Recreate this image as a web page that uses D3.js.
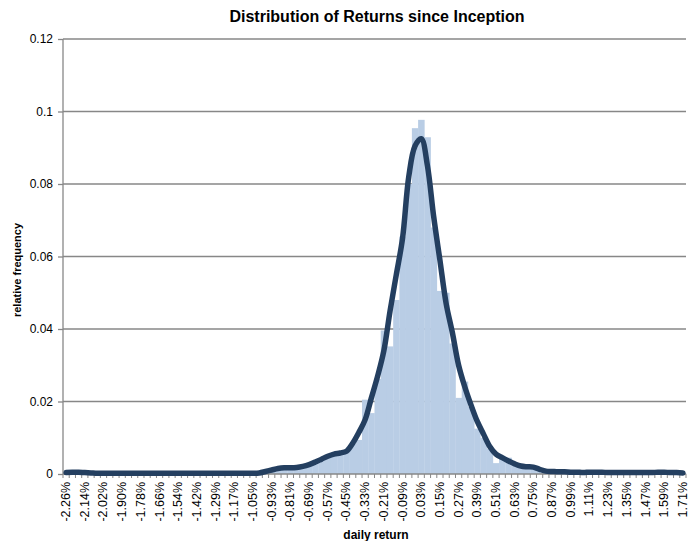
<!DOCTYPE html>
<html>
<head>
<meta charset="utf-8">
<script src="https://cdn.jsdelivr.net/npm/d3@7"></script>
<style>
  body { margin: 0; background: #fff; }
  text { font-family: "Liberation Sans", Arial, sans-serif; fill: #000; }
</style>
</head>
<body>
<svg id="chart"></svg>
<script>
// histogram of daily returns, 100 bins, every 3rd bin labelled
let width = 693, height = 541;

const tickLabels = ["-2.26%","-2.14%","-2.02%","-1.90%","-1.78%","-1.66%","-1.54%","-1.42%","-1.29%",
  "-1.17%","-1.05%","-0.93%","-0.81%","-0.69%","-0.57%","-0.45%","-0.33%","-0.21%","-0.09%",
  "0.03%","0.15%","0.27%","0.39%","0.51%","0.63%","0.75%","0.87%","0.99%","1.11%","1.23%",
  "1.35%","1.47%","1.59%","1.71%"];

const binCount = 100;

// bar heights (relative frequency per bin)
const barValues = [
  0.0004,0.0005,0.0004,0.0002,0.0001,0.0001,0.0001,0.0001,0.0001,0.0001,
  0.0001,0.0001,0.0001,0.0001,0.0001,0.0001,0.0001,0.0001,0.0001,0.0001,
  0.0001,0.0001,0.0001,0.0001,0.0001,0.0001,0.0001,0.0001,0.0001,0.0002,
  0.0003,0.0006,0.0009,0.0012,0.0016,0.0017,0.0015,0.0019,0.0021,0.0027,
  0.0032,0.0043,0.0047,0.0056,0.0055,0.0061,0.0083,0.0094,0.0205,0.0168,
  0.0262,0.0396,0.0352,0.0480,0.0655,0.0800,0.0954,0.0977,0.0929,0.0680,
  0.0505,0.0500,0.0360,0.0210,0.0255,0.0185,0.0125,0.0100,0.0070,0.0030,
  0.0047,0.0045,0.0028,0.0020,0.0021,0.0018,0.0010,0.0008,0.0008,0.0005,
  0.0005,0.0004,0.0003,0.0004,0.0005,0.0004,0.0004,0.0005,0.0004,0.0003,
  0.0004,0.0005,0.0004,0.0003,0.0003,0.0004,0.0005,0.0004,0.0003,0.0003
];

// smoothed line
const lineValues = [
  0.0004,0.0005,0.0005,0.0004,0.0003,0.0002,0.0002,0.0002,0.0002,0.0002,
  0.0002,0.0002,0.0002,0.0002,0.0002,0.0002,0.0002,0.0002,0.0002,0.0002,
  0.0002,0.0002,0.0002,0.0002,0.0002,0.0002,0.0002,0.0002,0.0002,0.0002,
  0.0002,0.0003,0.0007,0.0011,0.0015,0.0017,0.0017,0.0018,0.0021,0.0026,
  0.0033,0.0041,0.0049,0.0055,0.0058,0.0063,0.0085,0.0115,0.0150,0.0210,
  0.0270,0.0340,0.0450,0.0550,0.0650,0.0820,0.0905,0.0925,0.0850,0.0710,
  0.0590,0.0470,0.0390,0.0300,0.0240,0.0190,0.0145,0.0110,0.0076,0.0055,
  0.0045,0.0036,0.0028,0.0022,0.0020,0.0019,0.0013,0.0008,0.0007,0.0006,
  0.0006,0.0005,0.0005,0.0004,0.0005,0.0005,0.0005,0.0004,0.0004,0.0004,
  0.0004,0.0004,0.0004,0.0004,0.0004,0.0005,0.0005,0.0004,0.0004,0.0003
];

const yTicks = [0, 0.02, 0.04, 0.06, 0.08, 0.1, 0.12];

let svg = d3.select("#chart").attr("width", width).attr("height", height);

let x = d3.scaleBand().domain(d3.range(binCount)).range([63, 686]).padding(0);
let y = d3.scaleLinear().domain([0, 0.12]).range([474, 39]);

// gridlines
svg.append("g").selectAll("line")
  .data(yTicks.filter(d => d > 0))
  .enter().append("line")
  .attr("x1", 63).attr("x2", 686)
  .attr("y1", d => y(d)).attr("y2", d => y(d))
  .style("stroke", "#878787").style("stroke-width", 1.3);

// bars
svg.append("g").selectAll("rect")
  .data(barValues)
  .enter().append("rect")
  .attr("x", (d, i) => x(i))
  .attr("y", d => y(d))
  .attr("width", x.bandwidth() + 0.3)
  .attr("height", d => y(0) - y(d))
  .style("fill", "#b9cde5");

// y axis
let yAxis = d3.axisLeft(y).tickValues(yTicks).tickSize(5).tickFormat(d => d3.format("")(+d.toFixed(2)));
let gy = svg.append("g").attr("transform", "translate(63,0)").call(yAxis);
gy.select(".domain").remove();
gy.append("line").attr("x1", 0).attr("x2", 0).attr("y1", y(0.12)).attr("y2", y(0))
  .style("stroke", "#878787").style("stroke-width", 1.3);
gy.selectAll(".tick line").style("stroke", "#878787").style("stroke-width", 1.3);
gy.selectAll(".tick text").attr("x", -10).style("font-size", "12px")
  .style("font-family", "Liberation Sans, Arial, sans-serif");

// x axis: minor ticks at every bin edge
let gx = svg.append("g");
gx.append("line").attr("x1", 63).attr("x2", 686).attr("y1", y(0)).attr("y2", y(0))
  .style("stroke", "#878787").style("stroke-width", 1.3);
gx.selectAll(".mt")
  .data(d3.range(binCount + 1))
  .enter().append("line")
  .attr("x1", i => 63 + i * x.bandwidth()).attr("x2", i => 63 + i * x.bandwidth())
  .attr("y1", y(0)).attr("y2", y(0) + 4)
  .style("stroke", "#878787").style("stroke-width", 1);

gx.selectAll(".lbl")
  .data(tickLabels)
  .enter().append("text")
  .attr("transform", (d, i) => `translate(${x(i * 3) + x.bandwidth() / 2 + 4},482) rotate(-90)`)
  .attr("text-anchor", "end")
  .style("font-size", "12.5px")
  .text(d => d);

// smoothed line
let line = d3.line()
  .x((d, i) => x(i) + x.bandwidth() / 2)
  .y(d => y(d))
  .curve(d3.curveCatmullRom);

svg.append("path")
  .datum(lineValues)
  .attr("d", line)
  .style("fill", "none")
  .style("stroke", "#243f60")
  .style("stroke-width", 5.5)
  .style("stroke-linejoin", "round")
  .style("stroke-linecap", "round");

// titles
svg.append("text")
  .attr("x", 377).attr("y", 22)
  .attr("text-anchor", "middle")
  .style("font-size", "16px").style("font-weight", "bold")
  .text("Distribution of Returns since Inception");

svg.append("text")
  .attr("transform", "translate(21,270) rotate(-90)")
  .attr("text-anchor", "middle")
  .style("font-size", "11px").style("font-weight", "bold")
  .text("relative frequency");

svg.append("text")
  .attr("x", 376).attr("y", 539)
  .attr("text-anchor", "middle")
  .style("font-size", "12px").style("font-weight", "bold")
  .text("daily return");
</script>
</body>
</html>
